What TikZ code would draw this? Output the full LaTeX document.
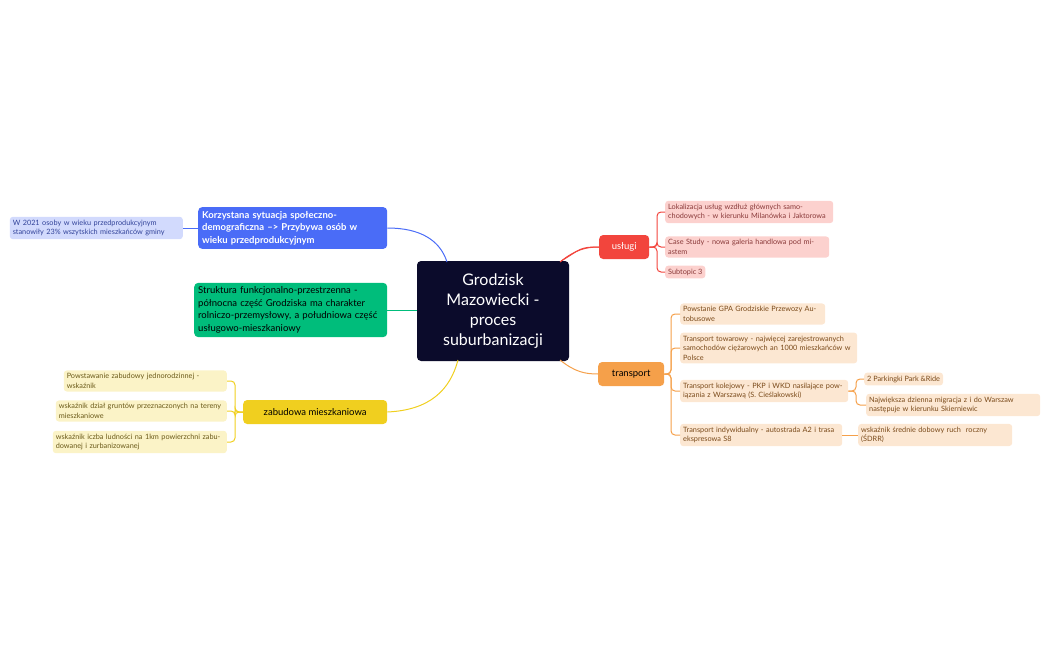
\documentclass[tikz,border=0pt]{standalone}
\usepackage{fontspec}
\setmainfont{Lato}
\begin{document}
\begin{tikzpicture}[x=1pt,y=-1pt,
 base/.style={rounded corners=3pt,align=left,inner sep=3pt,anchor=west,font=\fontsize{7.3}{9.6}\selectfont},
 red/.style={base,fill=redc!25,text=redt},
 ora/.style={base,fill=orac!25,text=orat},
 yel/.style={base,fill=yelc!25,text=yelt},
 blu/.style={base,fill=bluc!25,text=blut},
 br/.style={line width=1pt,rounded corners=4pt},
 main/.style={rounded corners=4pt,inner sep=4pt,anchor=west,align=left,font=\fontsize{9.5}{12.5}\selectfont}]
\definecolor{redc}{HTML}{F2453D}\definecolor{redt}{HTML}{8A3A3A}
\definecolor{orac}{HTML}{F5A04A}\definecolor{orat}{HTML}{7A4A1A}
\definecolor{yelc}{HTML}{F0CF1F}\definecolor{yelt}{HTML}{6B5A1A}
\definecolor{bluc}{HTML}{4A6CF7}\definecolor{blut}{HTML}{33449A}
\definecolor{grnc}{HTML}{00BD7B}\definecolor{navy}{HTML}{0B0B2B}
\useasboundingbox (0,0) rectangle (1050,650);
% central
\node[fill=navy,text=white,rounded corners=4pt,minimum width=152pt,minimum height=100pt,align=center,font=\fontsize{16}{20}\selectfont] (c) at (493,311) {Grodzisk\\Mazowiecki -\\proces\\suburbanizacji};
% branches
\node[main,fill=redc,text=white,minimum width=50pt,minimum height=24pt,align=center] (u) at (599,247) {usługi};
\node[main,fill=orac,text=black,minimum width=66pt,minimum height=24pt,align=center] (t) at (598,374) {transport};
\node[main,fill=bluc,text=white,text width=181pt,font=\bfseries\fontsize{9.5}{12.5}\selectfont] (b) at (198,228) {Korzystana sytuacja społeczno-demograficzna --> Przybywa osób w wieku przedprodukcyjnym};
\node[main,fill=grnc,text=black,text width=185pt] (g) at (194,310) {Struktura funkcjonalno-przestrzenna - północna część Grodziska ma charakter rolniczo-przemysłowy, a południowa część usługowo-mieszkaniowy};
\node[main,fill=yelc,text=black,minimum width=144pt,minimum height=24pt,align=center] (y) at (243,412) {zabudowa mieszkaniowa};
\draw[redc,line width=1pt] (c.east|-0,261) ++(-8,0) .. controls +(20,-12) and +(-20,0) .. (u.west);
\draw[redc,line width=1pt] (560,262) .. controls (575,250) and (585,247) .. (u.west);
\draw[orac,line width=1pt] (560,360) .. controls (575,372) and (585,374) .. (t.west);
\draw[bluc,line width=1pt] (b.east) .. controls (420,228) and (440,240) .. (447,262);
\draw[grnc,line width=1pt] (g.east) -- (c.west|-g.east);
\draw[yelc,line width=1pt] (y.east) .. controls (430,410) and (450,390) .. (458,360);
% usługi children
\node[red,text width=162pt] (u1) at (665,212) {Lokalizacja usług wzdłuż głównych samochodowych - w kierunku Milanówka i Jaktorowa};
\node[red,text width=158pt] (u2) at (665,247) {Case Study - nowa galeria handlowa pod miastem};
\node[red] (u3) at (665,272) {Subtopic 3};
\foreach \n in {u1,u2,u3} \draw[redc,br] (u.east) -- (657,247) |- (\n.west);
% transport children
\node[ora,text width=139pt] (t1) at (680,314) {Powstanie GPA Grodziskie Przewozy Autobusowe};
\node[ora,text width=171pt] (t2) at (680,348) {Transport towarowy - najwięcej zarejestrowanych samochodów ciężarowych an 1000 mieszkańców w Polsce};
\node[ora,text width=162pt] (t3) at (680,391) {Transport kolejowy - PKP i WKD nasilające powiązania z Warszawą (S. Cieślakowski)};
\node[ora,text width=156pt] (t4) at (680,435) {Transport indywidualny - autostrada A2 i trasa ekspresowa S8};
\foreach \n in {t1,t2,t3,t4} \draw[orac,br] (t.east) -- (671,374) |- (\n.west);
\node[ora] (t31) at (864,379) {2 Parkingki Park \&Ride};
\node[ora,text width=168pt] (t32) at (866,405) {Największa dzienna migracja z i do Warszaw następuje w kierunku Skierniewic};
\foreach \n in {t31,t32} \draw[orac,br] (t3.east) -- (856,391) |- (\n.west);
\node[ora,text width=148pt] (t41) at (858,435) {wskaźnik średnie dobowy ruch\ \ roczny (ŚDRR)};
\draw[orac,br] (t4.east) -- (t41.west);
% blue child
\node[blu,text width=167pt,anchor=east] (b1) at (183,228) {W 2021 osoby w wieku przedprodukcyjnym stanowiły 23\% wszytskich mieszkańców gminy};
\draw[bluc,br] (b.west) -- (b1.east);
% yellow children
\node[yel,text width=157pt,anchor=east] (y1) at (227,381) {Powstawanie zabudowy jednorodzinnej - wskaźnik};
\node[yel,text width=165pt,anchor=east] (y2) at (227,411) {wskaźnik dział gruntów przeznaczonych na tereny mieszkaniowe};
\node[yel,text width=168pt,anchor=east] (y3) at (227,442) {wskaźnik iczba ludności na 1km powierzchni zabudowanej i zurbanizowanej};
\foreach \n in {y1,y2,y3} \draw[yelc,br] (y.west) -- (235,412) |- (\n.east);
\end{tikzpicture}
\end{document}
